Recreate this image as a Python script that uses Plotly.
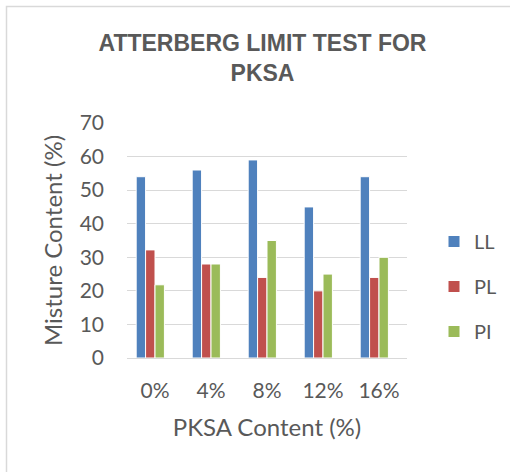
import plotly.graph_objects as go

categories = ["0%", "4%", "8%", "12%", "16%"]
ll_values = [54, 56, 59, 45, 54]
pl_values = [32.2, 28, 24, 20, 24]
pi_values = [21.8, 28, 35, 25, 30]
series_names = ["LL", "PL", "PI"]
series_colors = ["#4F81BD", "#C0504D", "#9BBB59"]
y_ticks = [0, 10, 20, 30, 40, 50, 60, 70]

W, H = 510, 472
L, R, T, B = 127, 103, 123, 114
PW, PH = W - L - R, H - T - B

TXT = "#595959"
GRID = "#D9D9D9"
FONT = "Lato, sans-serif"

# Excel-style grouping: room for four slots per category, three used
BAR_W = 0.168
offsets = [-2 * BAR_W, -BAR_W, 0.0]

fig = go.Figure()
for name, vals, col, off in zip(series_names, [ll_values, pl_values, pi_values], series_colors, offsets):
    fig.add_trace(go.Bar(
        x=categories, y=vals, name=name, legendgroup=name,
        width=BAR_W, offset=off,
        marker=dict(color=col, line=dict(color="white", width=1)),
    ))

def px_x(p):
    return (p - L) / PW

def px_y(p):
    return (H - B - p) / PH

fig.update_layout(
    width=W, height=H,
    margin=dict(l=L, r=R, t=T, b=B, autoexpand=False),
    paper_bgcolor="white", plot_bgcolor="white",
    barmode="group",
    font=dict(family=FONT, color=TXT),
    title=dict(
        text="ATTERBERG LIMIT TEST FOR<br>PKSA",
        font=dict(family="Liberation Sans, Arial, sans-serif",
                  size=23, color=TXT, weight="bold"),
        x=262.5 / W, xanchor="center", xref="container",
        y=1 - 51 / H, yanchor="top", yref="container",
    ),
    xaxis=dict(
        showgrid=False, showline=False, zeroline=False, automargin=False,
        ticks="", ticklabelstandoff=18,
        tickfont=dict(size=21, color=TXT, family=FONT),
        title=dict(text="PKSA Content (%)", font=dict(size=24, color=TXT, family=FONT), standoff=18),
    ),
    yaxis=dict(
        range=[0, 70], tickvals=y_ticks, showgrid=True, gridcolor=GRID, gridwidth=1,
        zeroline=True, zerolinecolor=GRID, zerolinewidth=1, showline=False, automargin=False,
        ticks="", ticklabelstandoff=22,
        tickfont=dict(size=21, color=TXT, family=FONT),
        title=dict(text="Misture Content (%)", font=dict(size=24, color=TXT, family=FONT), standoff=10),
    ),
    legend=dict(
        x=px_x(434), y=px_y(222), xanchor="left", yanchor="top",
        font=dict(size=20, color=TXT, family=FONT),
        tracegroupgap=16, bgcolor="rgba(0,0,0,0)",
    ),
    shapes=[dict(
        type="rect", xref="paper", yref="paper",
        x0=px_x(6.5), x1=px_x(W + 10), y0=px_y(H + 10), y1=px_y(6.5),
        line=dict(color=GRID, width=1.5), fillcolor="rgba(0,0,0,0)", layer="below",
    )],
)

fig.write_html("out.html", config={"displayModeBar": False},
               post_script="document.body.style.margin='0';")
